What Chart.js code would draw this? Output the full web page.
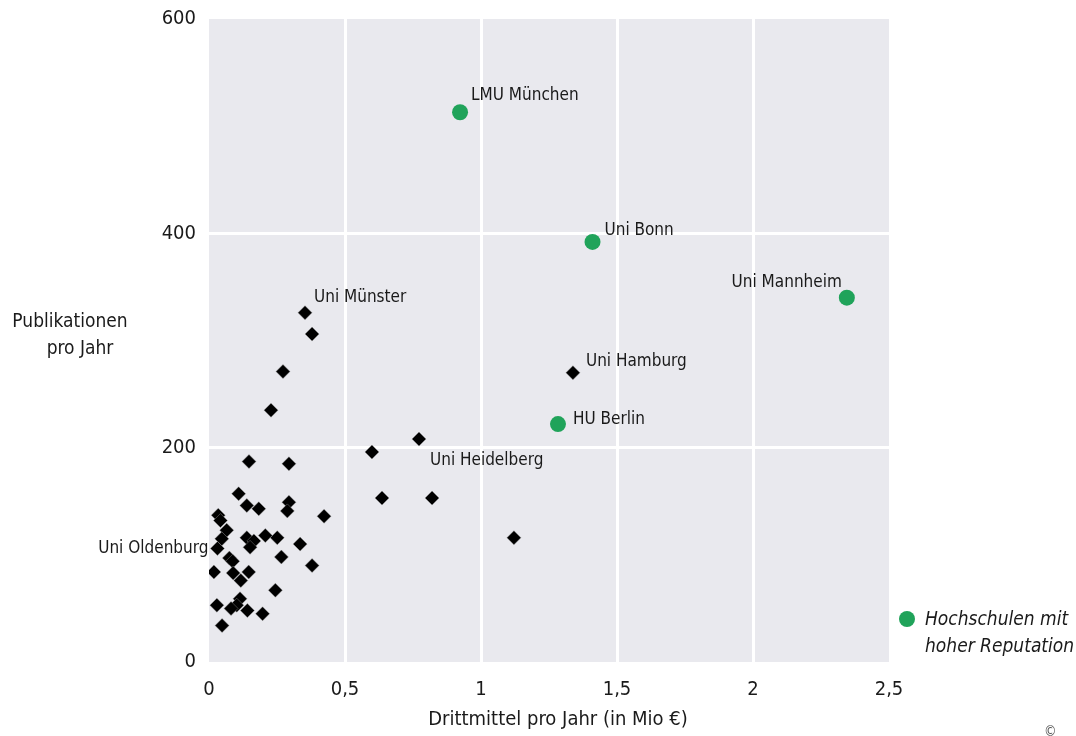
<!DOCTYPE html>
<html>
<head>
<meta charset="utf-8">
<script src="https://cdn.jsdelivr.net/npm/chart.js@4.4.1/dist/chart.umd.min.js"></script>
<style>
  html, body { margin: 0; padding: 0; background: #fff; }
  #wrap { width: 1076px; height: 736px; position: relative; }
</style>
</head>
<body>
<div id="wrap"><canvas id="chart" width="1076" height="736"></canvas></div>
<script>
// ---- data ----
const repNames = ["LMU München", "Uni Bonn", "Uni Mannheim", "HU Berlin"];
const repX = [0.923, 1.41, 2.345, 1.283];
const repY = [513, 392, 340, 222];

const otherX = [0.353, 0.379, 0.272, 0.228, 0.147, 0.294, 0.599, 0.772, 0.636, 0.820,
  1.121, 1.338, 0.423, 0.335, 0.379, 0.109, 0.139, 0.183, 0.294, 0.288,
  0.034, 0.042, 0.065, 0.047, 0.031, 0.139, 0.165, 0.151, 0.207, 0.251,
  0.266, 0.075, 0.087, 0.018, 0.089, 0.146, 0.117, 0.244, 0.029, 0.114,
  0.102, 0.081, 0.141, 0.197, 0.048];
const otherY = [326, 306, 271, 235, 187, 185, 196, 208, 153, 153,
  116, 270, 136, 110, 90, 157, 146, 143, 149, 141,
  137, 132, 123, 115, 106, 116, 113, 107, 118, 116,
  98, 97, 94, 84, 83, 84, 76, 67, 53, 59,
  53, 50, 48, 45, 34];
// labelled black points: index into otherX/otherY
const otherLabels = { 0: "Uni Münster", 7: "Uni Heidelberg", 11: "Uni Hamburg", 24: "Uni Oldenburg" };

const xTicks = [0, 0.5, 1, 1.5, 2, 2.5];
const yTicks = [0, 200, 400, 600];
const xTitle = "Drittmittel pro Jahr (in Mio €)";
const yTitle = ["Publikationen", "pro Jahr"];
const legendText = ["Hochschulen mit", "hoher Reputation"];

// ---- styles ----
const FONT = "'Liberation Sans Narrow', 'DejaVu Sans Condensed', 'Arial Narrow', sans-serif";
const GREEN = "#20a35a";
const BG = "#e9e9ee";
const TXT = "#1a1a1a";

// label offsets in px (dx, dy, align)
const labelStyle = {
  "LMU München": [11, -17, "left"],
  "Uni Bonn": [12, -11, "left"],
  "Uni Mannheim": [-5, -15, "right"],
  "HU Berlin": [15, -5, "left"],
  "Uni Münster": [9, -15, "left"],
  "Uni Heidelberg": [11, 21, "left"],
  "Uni Hamburg": [13, -11, "left"],
  "Uni Oldenburg": [-9, 0, "right"]
};

const fmt = v => String(v).replace(".", ",");

const extras = {
  id: "extras",
  beforeDraw(chart) {
    const { ctx, chartArea: a } = chart;
    ctx.save();
    ctx.fillStyle = BG;
    ctx.fillRect(a.left, a.top, a.right - a.left, a.bottom - a.top);
    ctx.restore();
  },
  afterDraw(chart) {
    const { ctx } = chart;
    ctx.save();
    ctx.fillStyle = TXT;
    ctx.textBaseline = "middle";
    ctx.font = "17px " + FONT;

    // point labels
    const drawLabel = (el, name) => {
      const s = labelStyle[name];
      ctx.textAlign = s[2];
      ctx.fillText(name, el.x + s[0], el.y + s[1]);
    };
    chart.getDatasetMeta(0).data.forEach((el, i) => drawLabel(el, repNames[i]));
    chart.getDatasetMeta(1).data.forEach((el, i) => {
      if (otherLabels[i]) drawLabel(el, otherLabels[i]);
    });

    // y title (horizontal, two lines)
    ctx.font = "19px " + FONT;
    ctx.textAlign = "center";
    ctx.fillText(yTitle[0], 70, 322);
    ctx.fillText(yTitle[1], 80, 349);

    // x title
    ctx.font = "20px " + FONT;
    ctx.fillText(xTitle, 558, 720);

    // legend
    ctx.fillStyle = GREEN;
    ctx.beginPath();
    ctx.arc(907, 619, 8, 0, Math.PI * 2);
    ctx.fill();
    ctx.fillStyle = TXT;
    ctx.textAlign = "left";
    ctx.font = "italic 19px " + FONT;
    ctx.fillText(legendText[0], 925, 620);
    ctx.fillText(legendText[1], 925, 647);

    // copyright mark
    ctx.font = "14px " + FONT;
    ctx.fillStyle = "#555";
    ctx.fillText("©", 1044, 732);
    ctx.restore();
  }
};

new Chart(document.getElementById("chart"), {
  type: "scatter",
  data: {
    datasets: [
      {
        label: legendText.join(" "),
        data: repX.map((x, i) => ({ x, y: repY[i] })),
        pointStyle: "circle",
        pointRadius: 8,
        pointHoverRadius: 8,
        backgroundColor: GREEN,
        borderColor: GREEN,
        borderWidth: 0
      },
      {
        label: "Hochschulen",
        data: otherX.map((x, i) => ({ x, y: otherY[i] })),
        pointStyle: "rectRot",
        pointRadius: 7,
        pointHoverRadius: 7,
        backgroundColor: "#000",
        borderColor: "rgba(150,150,150,0.6)",
        borderWidth: 0.7
      }
    ]
  },
  options: {
    responsive: false,
    animation: false,
    layout: { padding: { top: 19, right: 187, left: 0, bottom: 0 } },
    scales: {
      x: {
        type: "linear",
        min: 0, max: 2.5,
        afterFit: s => { s.height = 74; s.paddingLeft = 0; s.paddingRight = 0; },
        afterBuildTicks: s => { s.ticks = xTicks.map(v => ({ value: v })); },
        border: { display: false },
        grid: {
          color: c => (c.tick.value === 0 || c.tick.value === 2.5) ? "rgba(0,0,0,0)" : "#fff",
          lineWidth: 3,
          drawTicks: false
        },
        ticks: {
          padding: 16,
          color: TXT,
          font: { family: FONT, size: 20 },
          callback: v => fmt(v)
        }
      },
      y: {
        type: "linear",
        min: 0, max: 600,
        afterFit: s => { s.width = 209; s.paddingTop = 0; s.paddingBottom = 0; },
        afterBuildTicks: s => { s.ticks = yTicks.map(v => ({ value: v })); },
        border: { display: false },
        grid: {
          color: c => (c.tick.value === 0 || c.tick.value === 600) ? "rgba(0,0,0,0)" : "#fff",
          lineWidth: 3,
          drawTicks: false
        },
        ticks: {
          padding: 13,
          color: TXT,
          font: { family: FONT, size: 20 }
        }
      }
    },
    plugins: {
      legend: { display: false },
      tooltip: { enabled: false }
    }
  },
  plugins: [extras]
});
</script>
</body>
</html>
